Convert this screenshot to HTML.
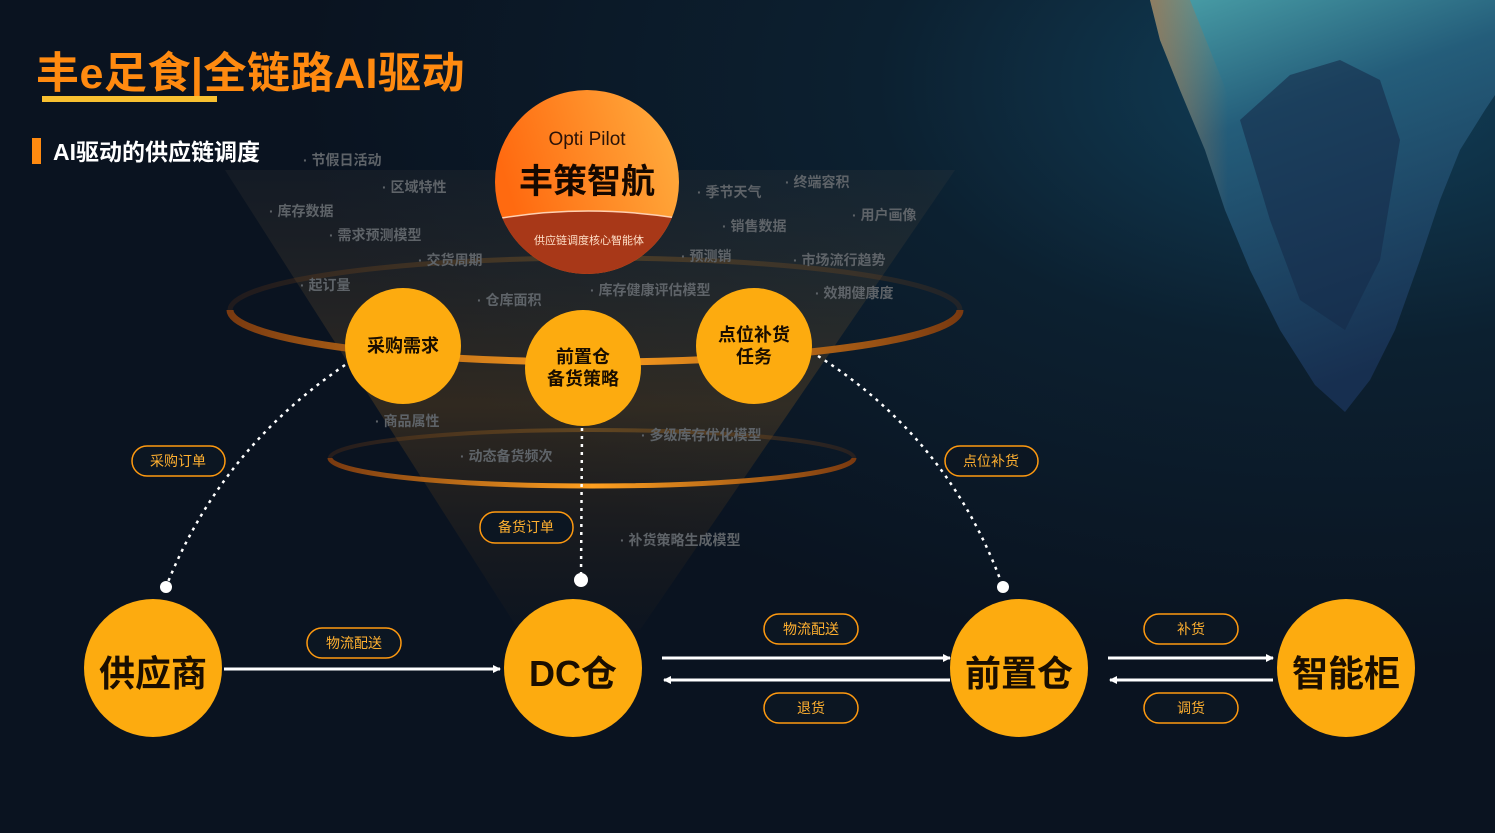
<!DOCTYPE html>
<html><head><meta charset="utf-8"><style>
body{margin:0;width:1495px;height:833px;overflow:hidden;background:#0a1420;font-family:"Liberation Sans","Noto Sans CJK SC",sans-serif;}
svg{position:absolute;left:0;top:0}
</style></head><body>
<svg width="1495" height="833" viewBox="0 0 1495 833" xmlns="http://www.w3.org/2000/svg" font-family="Liberation Sans, Noto Sans CJK SC, sans-serif">
<defs>
<radialGradient id="bg" cx="0.9" cy="0.1" r="0.7">
<stop offset="0" stop-color="#11405a"/><stop offset="0.45" stop-color="#0c2030"/><stop offset="1" stop-color="#0a1320"/>
</radialGradient>
<linearGradient id="ice" x1="0" y1="0" x2="0.3" y2="1">
<stop offset="0" stop-color="#4aa0a8"/><stop offset="0.35" stop-color="#245d7a"/><stop offset="1" stop-color="#172f50"/>
</linearGradient>
<linearGradient id="iceL" x1="0" y1="0" x2="1" y2="0">
<stop offset="0" stop-color="#a0744f" stop-opacity="0.8"/><stop offset="0.4" stop-color="#a0744f" stop-opacity="0"/>
</linearGradient>
<linearGradient id="funnel" x1="0" y1="0" x2="0" y2="1">
<stop offset="0" stop-color="#4a4640" stop-opacity="0.15"/><stop offset="0.5" stop-color="#6a4a20" stop-opacity="0.4"/><stop offset="1" stop-color="#3a2a18" stop-opacity="0.05"/>
</linearGradient>
<linearGradient id="ring" x1="0" y1="0" x2="1" y2="0">
<stop offset="0" stop-color="#7a3a10"/><stop offset="0.5" stop-color="#ffa020"/><stop offset="1" stop-color="#7a3a10"/>
</linearGradient>
<linearGradient id="top" x1="0" y1="0.3" x2="1" y2="0">
<stop offset="0" stop-color="#ff6a10"/><stop offset="1" stop-color="#ffb040"/>
</linearGradient>
<clipPath id="tc"><circle cx="587" cy="182" r="92"/></clipPath>
<marker id="ah" markerWidth="8" markerHeight="8" refX="7" refY="4" orient="auto" markerUnits="userSpaceOnUse"><path d="M0,0 L8,4 L0,8 z" fill="#fff"/></marker>
</defs>
<rect width="1495" height="833" fill="url(#bg)"/>
<!-- iceberg -->
<polygon points="1150,0 1160,40 1180,90 1205,150 1225,210 1250,270 1280,330 1315,385 1345,412 1370,380 1395,330 1420,260 1440,200 1460,150 1485,110 1495,95 1495,0" fill="url(#ice)"/>
<polygon points="1150,0 1160,40 1180,90 1205,150 1225,210 1250,270 1280,330 1315,385 1345,412 1330,300 1290,200 1230,100 1190,0" fill="url(#iceL)"/>
<polygon points="1240,120 1290,75 1340,60 1380,80 1400,140 1380,260 1345,330 1300,300 1270,220" fill="#152c4a" opacity="0.6"/>
<!-- funnel -->
<polygon points="225,170 955,170 640,630 525,640" fill="url(#funnel)"/>
<!-- back ring halves -->
<path d="M230,310 A365,52 0 0 1 960,310" fill="none" stroke="url(#ring)" stroke-width="5" opacity="0.2"/>
<path d="M330,458 A262,28 0 0 1 854,458" fill="none" stroke="url(#ring)" stroke-width="4" opacity="0.25"/>
<path d="M230,310 A365,52 0 0 0 960,310" fill="none" stroke="url(#ring)" stroke-width="7"/>
<path d="M330,458 A262,28 0 0 0 854,458" fill="none" stroke="url(#ring)" stroke-width="5"/>
<!-- title -->
<text x="36" y="88" font-size="43" font-weight="bold" fill="#ff8a10" letter-spacing="0.5">丰e足食|全链路AI驱动</text>
<rect x="42" y="96" width="175" height="6" fill="#f8c030"/>
<rect x="32" y="138" width="9" height="26" fill="#ff8a10"/>
<text x="53" y="160" font-size="23" font-weight="bold" fill="#fff">AI驱动的供应链调度</text>
<!-- grey labels -->
<g font-size="14" font-weight="bold" fill="#5e6368">
<text x="303" y="165">· 节假日活动</text>
<text x="382" y="192">· 区域特性</text>
<text x="269" y="216">· 库存数据</text>
<text x="329" y="240">· 需求预测模型</text>
<text x="418" y="265">· 交货周期</text>
<text x="300" y="290">· 起订量</text>
<text x="477" y="305">· 仓库面积</text>
<text x="697" y="197">· 季节天气</text>
<text x="785" y="187">· 终端容积</text>
<text x="852" y="220">· 用户画像</text>
<text x="722" y="231">· 销售数据</text>
<text x="681" y="261">· 预测销</text>
<text x="793" y="265">· 市场流行趋势</text>
<text x="590" y="295">· 库存健康评估模型</text>
<text x="815" y="298">· 效期健康度</text>
<text x="375" y="426">· 商品属性</text>
<text x="641" y="440">· 多级库存优化模型</text>
<text x="460" y="461">· 动态备货频次</text>
<text x="620" y="545">· 补货策略生成模型</text>
</g>
<!-- top circle -->
<circle cx="587" cy="182" r="92" fill="url(#top)"/>
<g clip-path="url(#tc)"><path d="M480,222 Q587,200 700,222 L700,290 L480,290 z" fill="#a83818"/><path d="M480,222 Q587,200 700,222" fill="none" stroke="#ffd0b0" stroke-width="1.5"/></g>
<text x="587" y="145" font-size="19" fill="#2a1208" text-anchor="middle">Opti Pilot</text>
<text x="587" y="193" font-size="34" font-weight="bold" fill="#150800" text-anchor="middle">丰策智航</text>
<text x="589" y="244" font-size="11" fill="#ffe0c8" text-anchor="middle">供应链调度核心智能体</text>
<!-- dotted curves -->
<g fill="none" stroke="#fff" stroke-width="2.5" stroke-dasharray="3,5">
<path d="M345,365 Q220,450 166,587"/>
<path d="M582,428 L581,578"/>
<path d="M818,356 Q950,440 1003,587"/>
</g>
<circle cx="166" cy="587" r="6" fill="#fff"/>
<circle cx="581" cy="580" r="7" fill="#fff"/>
<circle cx="1003" cy="587" r="6" fill="#fff"/>
<!-- middle circles -->
<g fill="#fdab0f">
<circle cx="403" cy="346" r="58"/><circle cx="583" cy="368" r="58"/><circle cx="754" cy="346" r="58"/>
</g>
<g font-size="18" font-weight="bold" fill="#1a0e00" text-anchor="middle">
<text x="403" y="352">采购需求</text>
<text x="583" y="363">前置仓</text><text x="583" y="385">备货策略</text>
<text x="754" y="341">点位补货</text><text x="754" y="363">任务</text>
</g>
<!-- bottom circles -->
<g fill="#fdab0f">
<circle cx="153" cy="668" r="69"/><circle cx="573" cy="668" r="69"/><circle cx="1019" cy="668" r="69"/><circle cx="1346" cy="668" r="69"/>
</g>
<g font-size="36" font-weight="bold" fill="#1a0e00" text-anchor="middle">
<text x="153" y="686">供应商</text><text x="573" y="686">DC仓</text><text x="1019" y="686">前置仓</text><text x="1346" y="686">智能柜</text>
</g>
<!-- arrows -->
<g stroke="#fff" stroke-width="3" marker-end="url(#ah)">
<line x1="224" y1="669" x2="500" y2="669"/>
<line x1="662" y1="658" x2="950" y2="658"/>
<line x1="950" y1="680" x2="664" y2="680"/>
<line x1="1108" y1="658" x2="1273" y2="658"/>
<line x1="1273" y1="680" x2="1110" y2="680"/>
</g>
<!-- pills -->
<g fill="#0c1622" stroke="#ff9a10" stroke-width="1.5">
<rect x="132" y="446" width="93" height="30" rx="15"/>
<rect x="945" y="446" width="93" height="30" rx="15"/>
<rect x="480" y="512" width="93" height="31" rx="15"/>
<rect x="307" y="628" width="94" height="30" rx="15"/>
<rect x="764" y="614" width="94" height="30" rx="15"/>
<rect x="764" y="693" width="94" height="30" rx="15"/>
<rect x="1144" y="614" width="94" height="30" rx="15"/>
<rect x="1144" y="693" width="94" height="30" rx="15"/>
</g>
<g font-size="14" fill="#ffb030" text-anchor="middle">
<text x="178" y="466">采购订单</text>
<text x="991" y="466">点位补货</text>
<text x="526" y="532">备货订单</text>
<text x="354" y="648">物流配送</text>
<text x="811" y="634">物流配送</text>
<text x="811" y="713">退货</text>
<text x="1191" y="634">补货</text>
<text x="1191" y="713">调货</text>
</g>
</svg>
</body></html>
